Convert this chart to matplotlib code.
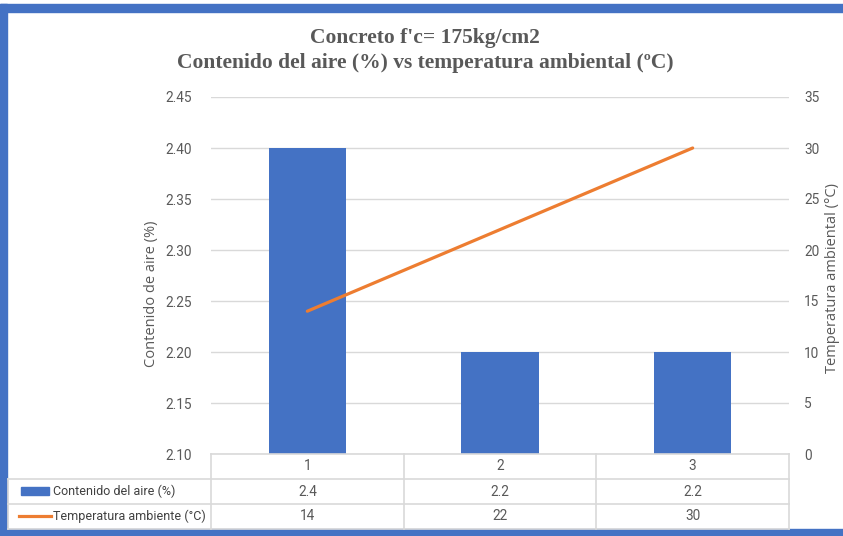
import matplotlib.pyplot as plt
from matplotlib.patches import Rectangle
from matplotlib.lines import Line2D

categories = ["1", "2", "3"]
aire = [2.4, 2.2, 2.2]
temperatura = [14, 22, 30]
aire_labels = ["2.4", "2.2", "2.2"]
temp_labels = ["14", "22", "30"]
series_names = ["Contenido del aire (%)", "Temperatura ambiente (°C)"]

W, H = 843, 536
BLUE = "#4472C4"
ORANGE = "#ED7D31"
GRAY = "#595959"
GRID = "#D9D9D9"
narrow = ["Roboto", "DejaVu Sans"]


def fx(x):
    return x / W


def fy(y):
    return 1 - y / H


fig = plt.figure(figsize=(W / 100, H / 100), dpi=100)

# plot area
left, right, top, bottom = 211, 789, 97, 454
ax = fig.add_axes([fx(left), fy(bottom), fx(right - left), fy(top) - fy(bottom)])
xs = list(range(len(categories)))
ax.bar(xs, aire, width=0.4, color=BLUE, zorder=2)
ax.set_xlim(-0.5, len(categories) - 0.5)
ax.set_ylim(2.10, 2.45)
ax.set_yticks([2.10, 2.15, 2.20, 2.25, 2.30, 2.35, 2.40, 2.45])
ax.set_yticklabels(["%.2f" % v for v in ax.get_yticks()], family=narrow, fontsize=9.8, color=GRAY)
ax.set_xticks([])
ax.grid(axis="y", color=GRID, linewidth=1, zorder=0)
for s in ax.spines.values():
    s.set_visible(False)
ax.tick_params(axis="y", length=0, pad=14)
ax.set_ylabel("Contenido de aire (%)", fontsize=10.5, color=GRAY, family="Open Sans")
ax.yaxis.set_label_coords(-0.09, 0.45)

ax2 = ax.twinx()
ax2.plot(xs, temperatura, color=ORANGE, linewidth=2.3, solid_capstyle="round", zorder=3)
ax2.set_ylim(0, 35)
ax2.set_yticks(range(0, 36, 5))
ax2.set_yticklabels([str(v) for v in range(0, 36, 5)], family=narrow, fontsize=9.8, color=GRAY)
ax2.tick_params(axis="y", length=0, pad=11)
for s in ax2.spines.values():
    s.set_visible(False)
ax2.set_ylabel("Temperatura ambiental (°C)", fontsize=10.5, color=GRAY, family="Open Sans")
ax2.yaxis.set_label_coords(1.063, 0.493)

# title
fig.text(0.504, fy(38), "Concreto f'c= 175kg/cm2", ha="center", va="center",
         family="Liberation Serif", fontweight="bold", fontsize=15.5, color=GRAY)
fig.text(0.504, fy(63), "Contenido del aire (%) vs temperatura ambiental (ºC)", ha="center", va="center",
         family="Liberation Serif", fontweight="bold", fontsize=15.5, color=GRAY)

# data table
rows = [454, 479, 504, 529]
col_edges = [left + i * (right - left) / len(categories) for i in range(len(categories) + 1)]
label_left = 8


def hline(x0, x1, y):
    fig.add_artist(Line2D([fx(x0), fx(x1)], [fy(y), fy(y)], color=GRID, linewidth=1.2))


def vline(x, y0, y1):
    fig.add_artist(Line2D([fx(x), fx(x)], [fy(y0), fy(y1)], color=GRID, linewidth=1.2))


hline(left, right, rows[0])
for y in rows[1:]:
    hline(label_left, right, y)
vline(label_left, rows[1], rows[3])
for x in col_edges:
    vline(x, rows[0], rows[3])

for i, c in enumerate(categories):
    cx = (col_edges[i] + col_edges[i + 1]) / 2
    fig.text(fx(cx), fy((rows[0] + rows[1]) / 2), c, ha="center", va="center",
             family=narrow, fontsize=9.8, color=GRAY)
    fig.text(fx(cx), fy((rows[1] + rows[2]) / 2), aire_labels[i], ha="center", va="center",
             family=narrow, fontsize=9.8, color=GRAY)
    fig.text(fx(cx), fy((rows[2] + rows[3]) / 2), temp_labels[i], ha="center", va="center",
             family=narrow, fontsize=9.8, color=GRAY)

# legend keys in row headers
fig.add_artist(Rectangle((fx(21), fy(495)), fx(28), fy(487) - fy(495), color=BLUE))
fig.add_artist(Line2D([fx(19), fx(51)], [fy(516), fy(516)], color=ORANGE, linewidth=2.3))
fig.text(fx(53), fy((rows[1] + rows[2]) / 2), series_names[0], ha="left", va="center",
         family=narrow, fontsize=9, color="#404040")
fig.text(fx(53), fy((rows[2] + rows[3]) / 2), series_names[1], ha="left", va="center",
         family=narrow, fontsize=9, color="#404040")

# blue frame
fig.add_artist(Rectangle((0, fy(12)), 1, fy(4) - fy(12), color=BLUE))
fig.add_artist(Rectangle((0, 0), fx(7), fy(4), color=BLUE))
fig.add_artist(Rectangle((0, 0), 1, fy(529), color=BLUE))

plt.savefig("out.png", dpi=100)
